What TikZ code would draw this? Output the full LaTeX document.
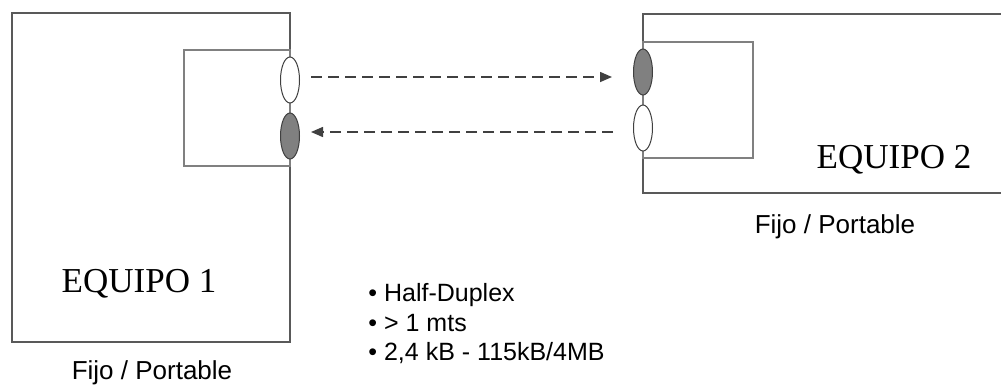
\documentclass[tikz,border=0pt]{standalone}
\usepackage{fontspec}
\setmainfont{Liberation Serif}
\newfontfamily\arial{Liberation Sans}
\usetikzlibrary{shapes.geometric,calc,arrows.meta}

\tikzset{
	caja/.style={draw=black!65,line width=0.9pt},
	interior/.style={draw=black!50,line width=0.7pt},
	puerto/.style={ellipse,draw=black!75,line width=0.5pt,minimum width=9.5pt,minimum height=23pt,inner sep=0pt},
	libre/.style={puerto,fill=white},
	ocupado/.style={puerto,fill=black!50},
	enlace/.style={draw=black!75,line width=0.75pt,dash pattern=on 5.5pt off 3pt,-{Triangle[length=6pt,width=5pt]}},
	titulo/.style={font=\fontsize{17.5}{20}\selectfont,anchor=base,inner sep=0pt},
	nota/.style={font=\arial\fontsize{13}{15}\selectfont,anchor=base,inner sep=0pt},
	punto/.style={font=\arial\fontsize{12.5}{15}\selectfont,anchor=base west,inner sep=0pt}
}

\begin{document}
\begin{tikzpicture}[x=0.5pt,y=-0.5pt]
	\useasboundingbox (0,0) rectangle (1001,387);
	
	% equipo 1
	\draw[caja] (12,13) rectangle (290,342);
	\draw[interior] (184,50) rectangle (290,166);
	\node[libre] (tx1) at (290,80) {};
	\node[ocupado] (rx1) at (290,136) {};
	\node[titulo] (eq1) at (139,292) {EQUIPO 1};
	\node[nota] (tipo1) at (152,379) {Fijo / Portable};
	
	% equipo 2
	\draw[caja] (1001,14) -- (643,14) -- (643,193) -- (1001,193);
	\draw[interior] (643,42) rectangle (753,158);
	\node[ocupado] (rx2) at (643,72) {};
	\node[libre] (tx2) at (643,128) {};
	\node[titulo] (eq2) at (894,168) {EQUIPO 2};
	\node[nota] (tipo2) at (835,233) {Fijo / Portable};
	
	% enlaces
	\draw[enlace] ($(tx1.east)+(11,-3)$) -- ($(rx2.west)+(-21,5)$);
	\draw[enlace] ($(tx2.west)+(-20,4)$) -- ($(rx1.east)+(11,-4)$);
	
	% caracteristicas
	\node[punto] (p1) at (368,301) {• Half-Duplex};
	\node[punto] (p2) at (368,331) {• > 1 mts};
	\node[punto] (p3) at (368,360) {• 2,4 kB - 115kB/4MB};
\end{tikzpicture}
\end{document}
